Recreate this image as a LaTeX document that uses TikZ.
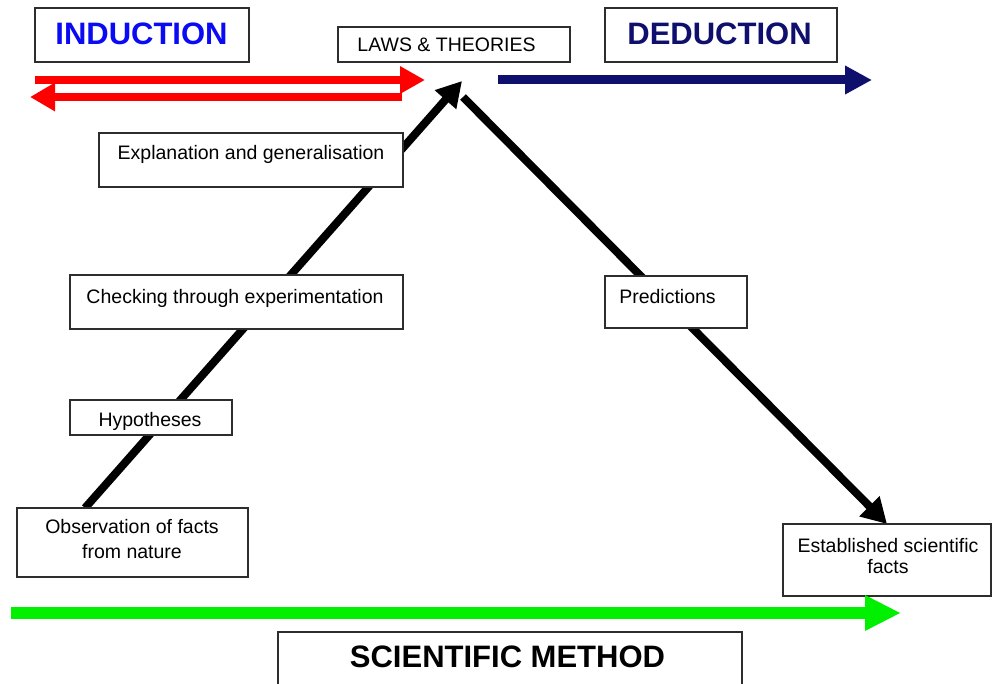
\documentclass[tikz,border=0pt]{standalone}
\usepackage{fontspec}
\setmainfont{Liberation Sans}
\usetikzlibrary{arrows.meta,backgrounds}
\definecolor{indblue}{RGB}{10,10,245}
\definecolor{dednavy}{RGB}{15,15,110}
\definecolor{arrred}{RGB}{255,0,0}
\definecolor{arrgreen}{RGB}{0,240,0}
\definecolor{boxline}{RGB}{45,45,45}
\begin{document}
\begin{tikzpicture}[x=1pt,y=-1pt,
  box/.style={draw=boxline, line width=1.6pt, fill=white, inner sep=0pt, outer sep=0pt},
  small/.style={font=\fontsize{19.5}{24}\selectfont, inner sep=0pt, anchor=base, align=center},
  big/.style={font=\fontsize{31}{36}\selectfont\bfseries, inner sep=0pt, anchor=base},
  blk/.style={line width=8pt, -{Triangle[length=25pt,width=27pt]}},
  fatarrow/.style={line width=#1}
]
\useasboundingbox (0,0) rectangle (992,684);
\clip (0,0) rectangle (992,684);

% boxes
\node[box, minimum width=214pt, minimum height=54pt] (ind) at (142,35) {};
\node[box, minimum width=232pt, minimum height=35pt] (laws) at (454,44.5) {};
\node[box, minimum width=232pt, minimum height=54pt] (ded) at (721,35) {};
\node[box, minimum width=304pt, minimum height=54pt] (expl) at (251,160) {};
\node[box, minimum width=333pt, minimum height=54pt] (check) at (236.5,302) {};
\node[box, minimum width=162pt, minimum height=35pt] (hyp) at (151,417.5) {};
\node[box, minimum width=231pt, minimum height=69pt] (obs) at (132.5,542.5) {};
\node[box, minimum width=142pt, minimum height=52pt] (pred) at (676,302) {};
\node[box, minimum width=208pt, minimum height=72pt] (est) at (887,560) {};
\node[box, minimum width=464pt, minimum height=68pt] (sci) at (510,666) {};

% texts
\node[big, text=indblue] (indT) at (141.5,45) {INDUCTION};
\node[big, text=dednavy] (dedT) at (719.5,45) {DEDUCTION};
\node[small] (lawsT) at (446.5,51.5) {LAWS \& THEORIES};
\node[small] (explT) at (251,160) {Explanation and generalisation};
\node[small] (checkT) at (235,303) {Checking through experimentation};
\node[small] (hypT) at (150,426) {Hypotheses};
\node[small] (predT) at (667.5,303) {Predictions};
\node[small, font=\fontsize{19.5}{25}\selectfont] (obsT) at (132,558) {Observation of facts\\from nature};
\node[small, font=\fontsize{19.5}{21.5}\selectfont] (estT) at (888,573.5) {Established scientific\\facts};
\node[big] (sciT) at (507.5,667) {SCIENTIFIC METHOD};

% connector end points
\coordinate (obsTop) at (85,508);
\coordinate (apex) at (462,81);
\coordinate (apexR) at (463,97);

\begin{scope}[on background layer]
\draw[blk] (obsTop) -- (apex);
\draw[blk] (apexR) -- (est.north);
\end{scope}

% coloured direction arrows
\coordinate (redAs) at (35,80);
\coordinate (redAe) at (425,80);
\coordinate (redBs) at (402,97);
\coordinate (redBe) at (30,97);
\coordinate (navS) at (498,80);
\coordinate (navE) at (872,80);
\coordinate (grS) at (11,613);
\coordinate (grE) at (901,613);
\draw[fatarrow=8pt, arrred, -{Triangle[length=25pt,width=26pt]}] (redAs) -- (redAe);
\draw[fatarrow=8pt, arrred, -{Triangle[length=25pt,width=27pt]}] (redBs) -- (redBe);
\draw[fatarrow=9pt, dednavy, -{Triangle[length=27pt,width=27pt]}] (navS) -- (navE);
\draw[fatarrow=12pt, arrgreen, -{Triangle[length=36pt,width=33pt]}] (grS) -- (grE);
\end{tikzpicture}
\end{document}
